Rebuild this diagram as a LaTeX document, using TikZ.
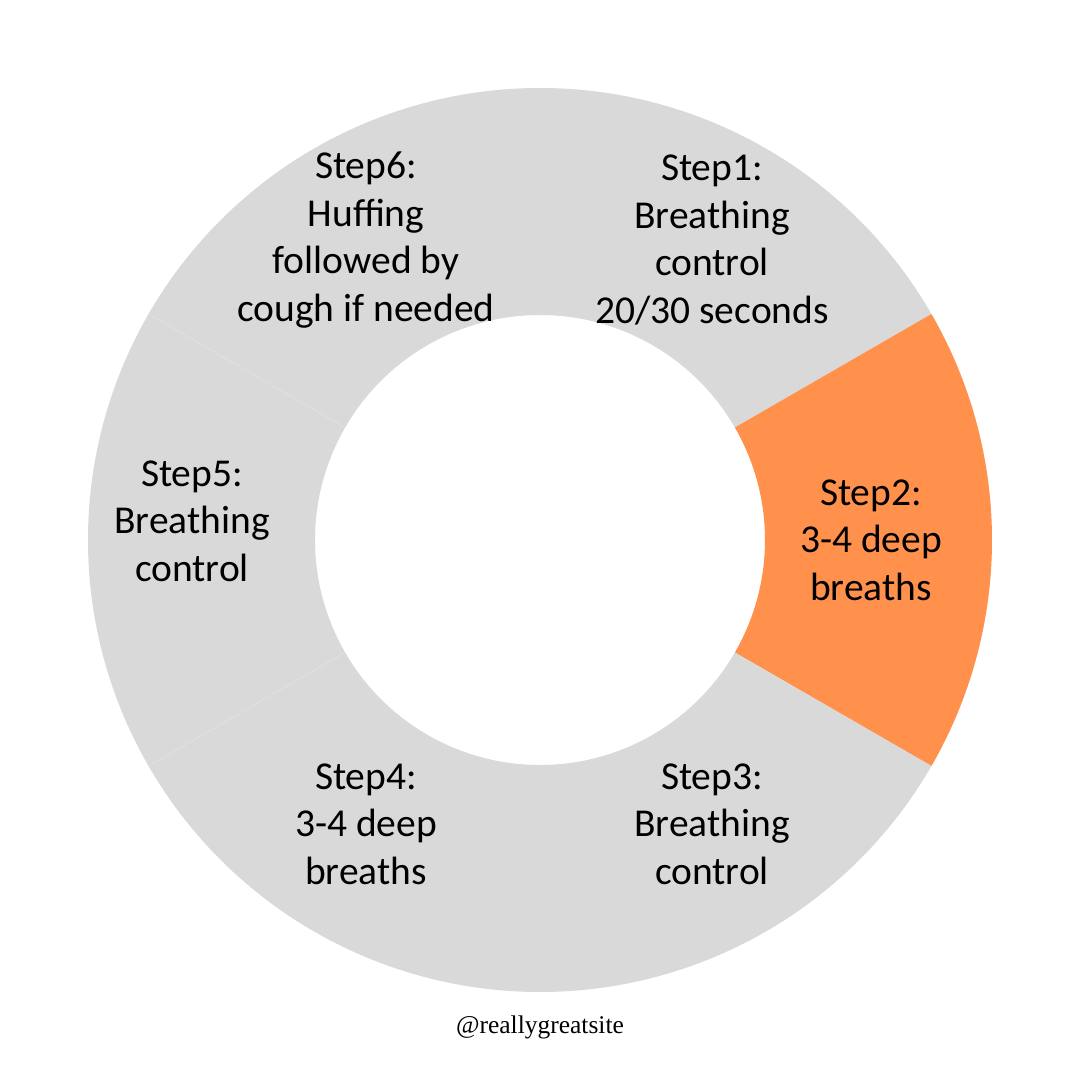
\documentclass[tikz,border=0pt]{standalone}
\usepackage{fontspec}
\newfontfamily\labelfont{Carlito}
\newfontfamily\handlefont{Liberation Serif}
\definecolor{segGray}{HTML}{D9D9D9}
\definecolor{segOrange}{HTML}{FF914D}
\definecolor{seamGray}{HTML}{E2E2E2}
\tikzset{
	steplabel/.style={font=\labelfont\fontsize{39.5}{47.5}\selectfont, align=center, text=black},
	handle/.style={font=\handlefont\fontsize{25.5}{30}\selectfont, text=black}
}
\begin{document}
\begin{tikzpicture}
			\useasboundingbox[fill=white] (-540pt,-540pt) rectangle (540pt,540pt);
			\fill[segGray] (30:452pt) arc[start angle=30, end angle=90, radius=452pt] -- (90:225pt) arc[start angle=90, end angle=30, radius=225pt] -- cycle;
			\fill[segOrange] (-30:452pt) arc[start angle=-30, end angle=30, radius=452pt] -- (30:225pt) arc[start angle=30, end angle=-30, radius=225pt] -- cycle;
			\fill[segGray] (-90:452pt) arc[start angle=-90, end angle=-30, radius=452pt] -- (-30:225pt) arc[start angle=-30, end angle=-90, radius=225pt] -- cycle;
			\fill[segGray] (210:452pt) arc[start angle=210, end angle=270, radius=452pt] -- (270:225pt) arc[start angle=270, end angle=210, radius=225pt] -- cycle;
			\fill[segGray] (150:452pt) arc[start angle=150, end angle=210, radius=452pt] -- (210:225pt) arc[start angle=210, end angle=150, radius=225pt] -- cycle;
			\fill[segGray] (90:452pt) arc[start angle=90, end angle=150, radius=452pt] -- (150:225pt) arc[start angle=150, end angle=90, radius=225pt] -- cycle;
			\draw [seamGray, line width=0.6pt] (150:225pt) -- (150:452pt);
			\draw [seamGray, line width=0.6pt] (210:225pt) -- (210:452pt);
			\node[steplabel] (step1) at (172pt,300pt) {Step1:\\Breathing\\control\\20/30 seconds};
			\node[steplabel] (step2) at (331pt,0pt) {Step2:\\3-4 deep\\breaths};
			\node[steplabel] (step3) at (172pt,-284pt) {Step3:\\Breathing\\control};
			\node[steplabel] (step4) at (-174pt,-284pt) {Step4:\\3-4 deep\\breaths};
			\node[steplabel] (step5) at (-348pt,19pt) {Step5:\\Breathing\\control};
			\node[steplabel] (step6) at (-174pt,300pt) {Step6:\\Huffing\\followed by\\cough if needed};
			\node[handle] (handle) at (0pt,-487pt) {@reallygreatsite};
		\end{tikzpicture}
\end{document}
